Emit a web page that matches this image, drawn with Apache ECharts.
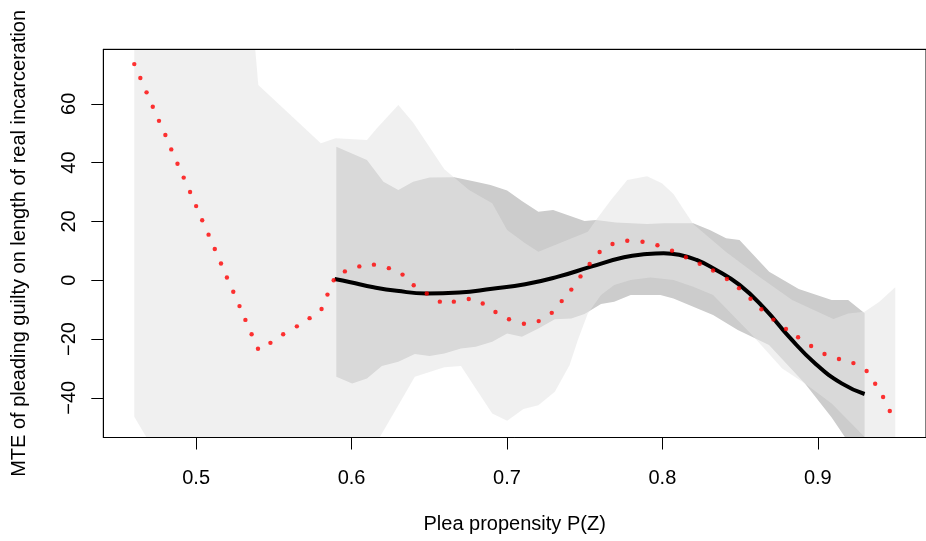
<!DOCTYPE html>
<html><head><meta charset="utf-8">
<script src="https://cdn.jsdelivr.net/npm/echarts@6/dist/echarts.min.js"></script>
<style>html,body{margin:0;padding:0;background:#fff}#c{width:926px;height:541px}</style>
</head><body><div id="c"></div><script>
// ---- data ----
const xTicks = [0.5, 0.6, 0.7, 0.8, 0.9];
const yTicks = [-40, -20, 0, 20, 40, 60];
const xTitle = 'Plea propensity P(Z)';
const yTitle = 'MTE of pleading guilty on length of real incarceration';

// red dotted MTE curve (nonparametric)
const redX = [0.4602,0.4641,0.4681,0.4721,0.4761,0.4802,0.4840,0.4880,0.4920,0.4961,0.5000,0.5039,0.5080,0.5120,0.5160,0.5198,0.5239,0.5279,0.5317,0.5357,0.5398,0.5478,0.5560,0.5648,0.5730,0.5807,0.5845,0.5885,0.5957,0.6050,0.6144,0.6240,0.6328,0.6400,0.6484,0.6568,0.6658,0.6754,0.6844,0.6926,0.7013,0.7109,0.7204,0.7288,0.7352,0.7414,0.7473,0.7532,0.7596,0.7679,0.7774,0.7872,0.7968,0.8062,0.8151,0.8240,0.8326,0.8415,0.8493,0.8567,0.8637,0.8714,0.8795,0.8873,0.8957,0.9043,0.9136,0.9229,0.9314,0.9369,0.9420,0.9463];
const redY = [73.5,68.8,63.9,59.0,54.2,49.4,44.5,39.6,34.9,30.0,25.2,20.4,15.5,10.6,5.7,0.9,-3.9,-8.8,-13.5,-18.4,-23.3,-21.3,-18.4,-15.7,-12.9,-9.8,-4.9,0.0,3.0,4.7,5.3,4.1,1.9,-1.7,-4.5,-7.3,-7.3,-6.4,-7.9,-10.8,-13.3,-14.8,-13.9,-11.1,-7.1,-3.2,1.3,5.5,9.6,12.3,13.4,13.1,11.9,10.0,7.8,5.6,3.3,0.4,-2.7,-6.3,-9.9,-13.4,-16.6,-19.4,-22.4,-25.1,-26.8,-28.2,-30.9,-35.2,-39.7,-44.5];

// black MTE curve (polynomial)
const blackX = [0.5891,0.5993,0.6142,0.6290,0.6481,0.6693,0.6905,0.7117,0.7329,0.7541,0.7753,0.7901,0.8008,0.8114,0.8220,0.8326,0.8496,0.8665,0.8814,0.8983,0.9153,0.9301];
const blackY = [0.4,-0.7,-2.4,-3.6,-4.5,-4.2,-2.9,-1.4,1.2,4.6,7.8,8.9,9.2,8.6,6.9,4.1,-1.6,-10.1,-19.2,-28.3,-35.1,-38.7];

// confidence band of the polynomial curve
const bUpX = [0.5902,0.6099,0.6205,0.6301,0.6396,0.6502,0.6661,0.6799,0.6894,0.7001,0.7096,0.7202,0.7297,0.7499,0.7573,0.7700,0.7901,0.8008,0.8198,0.8305,0.8410,0.8496,0.8687,0.8877,0.9089,0.9195,0.9301];
const bUpY = [45.4,40.9,33.5,30.7,33.5,34.9,35.0,33.5,32.4,30.5,26.9,23.3,23.9,20.1,20.5,19.6,19.1,19.4,19.4,17.1,14.3,13.7,2.9,-3.0,-6.7,-6.7,-11.2];
const bLoX = [0.5902,0.6004,0.6099,0.6195,0.6301,0.6407,0.6502,0.6597,0.6704,0.6799,0.6905,0.7001,0.7096,0.7202,0.7308,0.7414,0.7499,0.7605,0.7690,0.7796,0.7987,0.8071,0.8326,0.8485,0.8686,0.8917,0.9089,0.9174,0.9301];
const bLoY = [-32.8,-35.1,-33.4,-29.2,-27.7,-25.1,-25.8,-24.9,-23.2,-22.6,-20.9,-18.1,-19.2,-16.4,-13.3,-13.0,-11.5,-8.1,-7.3,-5.0,-5.0,-6.2,-11.8,-16.9,-22.0,-35.1,-46.7,-53.3,-64.6];

// confidence band of the nonparametric curve
const aUpX = [0.4602,0.5370,0.5378,0.5400,0.5802,0.5898,0.6099,0.6163,0.6301,0.6396,0.6597,0.6756,0.6905,0.7001,0.7117,0.7202,0.7520,0.7573,0.7669,0.7774,0.7901,0.7997,0.8071,0.8198,0.8410,0.8623,0.8835,0.9100,0.9195,0.9301,0.9396,0.9498];
const aUpY = [150,150,80,66.4,46.6,48.3,47.7,51.7,59.6,53.6,37.7,30.7,26.2,17.1,12.6,9.7,16.5,20.5,27.3,34.1,35.4,33.0,29.3,19.1,9.6,1.2,-6.7,-13.2,-11.3,-10.7,-7.3,-2.4];
const aLoX = [0.4602,0.4679,0.4750,0.6050,0.6110,0.6184,0.6301,0.6407,0.6597,0.6704,0.6799,0.6905,0.7001,0.7106,0.7202,0.7308,0.7403,0.7456,0.7520,0.7605,0.7690,0.7796,0.7923,0.8071,0.8198,0.8326,0.8580,0.8771,0.8917,0.9089,0.9195,0.9301,0.9350,0.9498];
const aLoY = [-46.4,-53.3,-80,-80,-60,-53.2,-42.5,-32.8,-29.6,-29.2,-36.8,-45.3,-47.8,-43.8,-42.5,-37.9,-28.8,-20.3,-11.3,-5.0,-1.6,0.1,0.9,0.1,-2.2,-5.0,-18.8,-30.0,-35.1,-41.9,-47.6,-53.3,-80,-80];

// ---- chart ----
const FONT = "'Liberation Sans', Arial, Helvetica, sans-serif";
const zip = (xs, ys) => xs.map((x, i) => [x, ys[i]]);
const fmtMinus = v => String(v).replace('-', '\u2212');

function bandRender(upX, upY, loX, loY, fill) {
  return function (params, api) {
    if (params.dataIndex > 0) return null;
    const pts = [];
    for (let i = 0; i < upX.length; i++) pts.push(api.coord([upX[i], upY[i]]));
    for (let i = loX.length - 1; i >= 0; i--) pts.push(api.coord([loX[i], loY[i]]));
    return { type: 'polygon', shape: { points: pts }, style: { fill: fill } };
  };
}

const X_MIN = 0.44027, X_MAX = 0.9696, Y_MIN = -53.5, Y_MAX = 78.54;
const txt = { color: '#000', fontFamily: FONT, fontSize: 20 };

const chart = echarts.init(document.getElementById('c'), null, { renderer: 'canvas' });
chart.setOption({
  animation: false,
  backgroundColor: '#fff',
  grid: { left: 103.3, top: 49.3, right: -9.4, bottom: 103.5, show: true, borderColor: '#000', borderWidth: 1, backgroundColor: 'transparent' },
  xAxis: [{
    type: 'value', min: X_MIN, max: X_MAX, position: 'bottom', z: 10,
    axisLine: { show: true, onZero: false, lineStyle: { color: '#000', width: 1 } },
    axisTick: { show: true, customValues: xTicks, length: 12, inside: false, lineStyle: { color: '#000', width: 1 } },
    axisLabel: Object.assign({ show: true, customValues: xTicks, margin: 31, formatter: v => Number(v).toFixed(1) }, txt),
    splitLine: { show: false },
    name: xTitle, nameLocation: 'middle', nameGap: 77, nameTextStyle: txt
  }, {
    type: 'value', min: X_MIN, max: X_MAX, position: 'top', z: 10,
    axisLine: { show: true, onZero: false, lineStyle: { color: '#000', width: 1 } },
    axisTick: { show: false }, axisLabel: { show: false }, splitLine: { show: false }
  }],
  yAxis: {
    type: 'value', min: Y_MIN, max: Y_MAX, z: 10,
    axisLine: { show: true, onZero: false, lineStyle: { color: '#000', width: 1 } },
    axisTick: { show: true, customValues: yTicks, length: 12, inside: false, lineStyle: { color: '#000', width: 1 } },
    axisLabel: Object.assign({ show: true, customValues: yTicks, rotate: 90, margin: 24, formatter: fmtMinus }, txt),
    splitLine: { show: false },
    name: yTitle, nameLocation: 'middle', nameRotate: 90, nameGap: 74, nameTextStyle: txt
  },
  series: [
    { type: 'custom', coordinateSystem: 'cartesian2d', clip: true, silent: true, z: 1,
      data: [[bUpX[0], bUpY[0]]], renderItem: bandRender(bUpX, bUpY, bLoX, bLoY, '#CCCCCC') },
    { type: 'custom', coordinateSystem: 'cartesian2d', clip: true, silent: true, z: 2,
      data: [[aUpX[0], 0]], renderItem: bandRender(aUpX, aUpY, aLoX, aLoY, 'rgba(228,228,228,0.549)') },
    { type: 'line', data: zip(blackX, blackY), smooth: true, showSymbol: false, symbol: 'none', z: 3,
      lineStyle: { color: '#000', width: 4 }, silent: true },
    { type: 'scatter', data: zip(redX, redY), symbol: 'circle', symbolSize: 4.4, z: 4,
      itemStyle: { color: '#FF0000' }, silent: true }
  ]
});
</script></body></html>
